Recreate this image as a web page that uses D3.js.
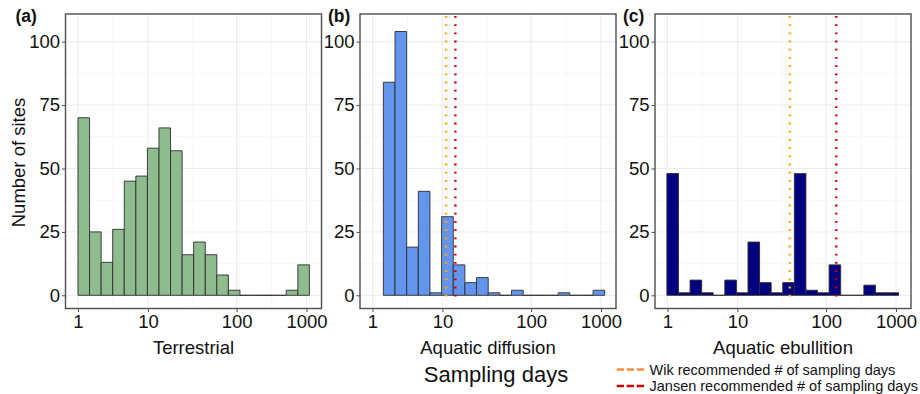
<!DOCTYPE html>
<html><head><meta charset="utf-8">
<script src="https://cdn.jsdelivr.net/npm/d3@7"></script>
<style>body{margin:0;background:#fff} svg{display:block;font-family:"Liberation Sans",Arial,sans-serif}</style>
</head><body><svg id="c" width="920" height="394"></svg>
<script>
// ---- data ----
const panelLabels = ["(a)", "(b)", "(c)"];
const panelTitles = ["Terrestrial", "Aquatic diffusion", "Aquatic ebullition"];
const terrestrialCounts = [70,25,13,26,45,47,58,66,57,16,21,16,8,2,0,0,0,0,2,12];
const diffusionCounts   = [84,104,19,41,1,31,12,5,7,1,0,2,0,0,0,1,0,0,2];
const ebullitionCounts  = [48,1,6,1,0,6,1,21,5,1,5,48,2,1,12,0,0,4,1,1];
const binRanges = [[1, 1100], [1.43, 1130], [0.98, 1090]];   // sampling days covered by the bins
const xTicks = [1, 10, 100, 1000];
const yTicks = [0, 25, 50, 75, 100];
const yMinor = [12.5, 37.5, 62.5, 87.5];
const wikDays = [null, 11, 39];
const jansenDays = [null, 14, 140];
const legendLabels = ["Wik recommended # of sampling days", "Jansen recommended # of sampling days"];
const xTitle = "Sampling days";
const yTitle = "Number of sites";

// ---- styles / layout ----
const barColors = ["#8FBC8F", "#6495ED", "#000080"];
const wikColor = "#FFA500", jansenColor = "#CC0000", wikLegendColor = "#F5913E";
const panelLefts = [65.5, 360, 655];
const panelW = 256, panelTop = 14, panelBottom = 308.5;
const tickFrac = [0, 0.306, 0.694, 1];
const allCounts = [terrestrialCounts, diffusionCounts, ebullitionCounts];

const svg = d3.select("#c");
const y = d3.scaleLinear().domain([-5.2, 110.9]).range([panelBottom, panelTop]);

allCounts.forEach((counts, p) => {
  const L = panelLefts[p];
  const x0 = L + 12.5, x1 = L + 241;
  const x = d3.scaleLog().domain(xTicks).range(tickFrac.map(f => x0 + f * (x1 - x0)));
  const g = svg.append("g");

  // grid
  const majorPx = xTicks.map(x);
  const minorPx = d3.range(majorPx.length - 1).map(i => (majorPx[i] + majorPx[i + 1]) / 2);
  g.selectAll(".vmin").data(minorPx).join("line")
    .attr("x1", d => d).attr("x2", d => d).attr("y1", panelTop).attr("y2", panelBottom)
    .attr("stroke", "#f5f5f5").attr("stroke-width", 0.8);
  g.selectAll(".hmin").data(yMinor).join("line")
    .attr("x1", L).attr("x2", L + panelW).attr("y1", d => y(d)).attr("y2", d => y(d))
    .attr("stroke", "#f5f5f5").attr("stroke-width", 0.8);
  g.selectAll(".vmaj").data(xTicks).join("line")
    .attr("x1", d => x(d)).attr("x2", d => x(d)).attr("y1", panelTop).attr("y2", panelBottom)
    .attr("stroke", "#ebebeb").attr("stroke-width", 1);
  g.selectAll(".hmaj").data(yTicks).join("line")
    .attr("x1", L).attr("x2", L + panelW).attr("y1", d => y(d)).attr("y2", d => y(d))
    .attr("stroke", "#ebebeb").attr("stroke-width", 1);

  // bars
  const bin = d3.scaleLinear().domain([0, counts.length]).range([x(binRanges[p][0]), x(binRanges[p][1])]);
  g.selectAll(".bar").data(counts).join("path")
    .attr("d", (d, i) => `M${bin(i)},${y(0)}V${y(d)}H${bin(i + 1)}V${y(0)}Z`)
    .attr("fill", barColors[p]).attr("stroke", "#2e2e2e").attr("stroke-width", 0.9);

  // reference lines
  [[wikDays[p], wikColor], [jansenDays[p], jansenColor]].forEach(([v, c]) => {
    if (v == null) return;
    g.append("line").attr("x1", x(v)).attr("x2", x(v))
      .attr("y1", panelTop + 2).attr("y2", y(0) + 2.5)
      .attr("stroke", c).attr("stroke-width", 2.5).attr("stroke-dasharray", "1.8,6.4");
  });

  // frame
  g.append("rect").attr("x", L).attr("y", panelTop).attr("width", panelW).attr("height", panelBottom - panelTop)
    .attr("fill", "none").attr("stroke", "#4f4f4f").attr("stroke-width", 1.4);

  // axes
  const xa = g.append("g").attr("transform", `translate(0,${panelBottom})`)
    .call(d3.axisBottom(x).tickValues(xTicks).tickFormat(d3.format("d")).tickSize(3.5).tickPadding(3));
  const ya = g.append("g").attr("transform", `translate(${L},0)`)
    .call(d3.axisLeft(y).tickValues(yTicks).tickSize(3.5).tickPadding(2));
  [xa, ya].forEach(a => {
    a.select(".domain").remove();
    a.selectAll(".tick line").attr("stroke", "#4f4f4f");
    a.selectAll(".tick text").attr("fill", "#111").style("font-size", "18.5px")
      .style("font-family", '"Liberation Sans",Arial,sans-serif');
  });

  // titles
  g.append("text").attr("x", L + panelW / 2).attr("y", 354).attr("text-anchor", "middle")
    .style("font-size", "18.5px").attr("fill", "#111").text(panelTitles[p]);
  g.append("text").attr("x", L - 50 + (p === 0 ? 0 : 18)).attr("y", 22)
    .style("font-size", "17.5px").style("font-weight", "bold").attr("fill", "#111").text(panelLabels[p]);
});

// global titles
svg.append("text").attr("x", 496).attr("y", 382).attr("text-anchor", "middle")
  .style("font-size", "22px").attr("fill", "#111").text(xTitle);
svg.append("text").attr("transform", "translate(25,162.5) rotate(-90)").attr("text-anchor", "middle")
  .style("font-size", "18.5px").attr("fill", "#111").text(yTitle);

// legend
const leg = svg.append("g");
[[wikLegendColor, 0], [jansenColor, 1]].forEach(([c, i]) => {
  const ly = 369.5 + i * 16.5;
  leg.append("line").attr("x1", 616.7).attr("x2", 646).attr("y1", ly).attr("y2", ly)
    .attr("stroke", c).attr("stroke-width", 2.5).attr("stroke-dasharray", "7.3,2.7");
  leg.append("text").attr("x", 649.5).attr("y", ly + 5).style("font-size", "14.5px")
    .attr("fill", "#111").text(legendLabels[i]);
});
</script></body></html>
